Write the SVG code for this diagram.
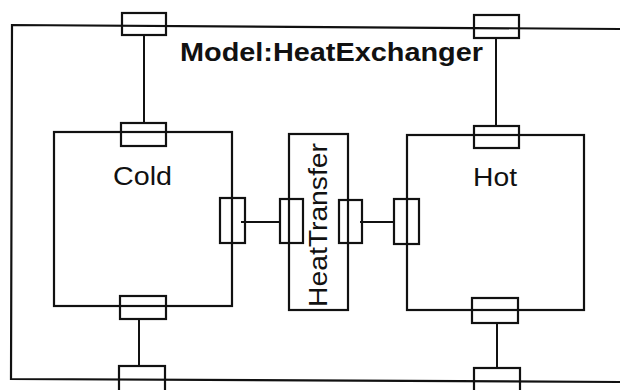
<svg xmlns="http://www.w3.org/2000/svg" width="620" height="390" viewBox="0 0 620 390">
<style>
.box{fill:none;stroke:#111;stroke-width:2.2}
.port{fill:none;stroke:#111;stroke-width:2.2}
.conn{fill:none;stroke:#111;stroke-width:2}
.lbl{font-family:"Liberation Sans",Arial,sans-serif;font-size:25px;fill:#111}
.title{font-family:"Liberation Sans",Arial,sans-serif;font-size:25px;font-weight:bold;fill:#111}
</style>
<rect width="620" height="390" fill="#fff"/>
<g id="model">
<path class="box" d="M620,29 L12,25 L11,379 L620,382"/>
<text class="title" x="180" y="61" textLength="303" lengthAdjust="spacingAndGlyphs">Model:HeatExchanger</text>
<rect class="port" x="122" y="13" width="44" height="22"/>
<rect class="port" x="474" y="15" width="45" height="23"/>
<rect class="port" x="119" y="366" width="46" height="30"/>
<rect class="port" x="474" y="368" width="46" height="30"/>
</g>
<g id="cold">
<rect class="box" x="54" y="132" width="178" height="174"/>
<text class="lbl" x="113" y="185" textLength="59" lengthAdjust="spacingAndGlyphs">Cold</text>
<rect class="port" x="121" y="123" width="45" height="23"/>
<rect class="port" x="120" y="296" width="46" height="23"/>
<rect class="port" x="220" y="198" width="25" height="45"/>
</g>
<g id="heattransfer">
<rect class="box" x="289" y="134" width="59" height="176"/>
<text class="lbl" transform="translate(327,307) rotate(-90)" x="0" y="0" font-size="26" textLength="164" lengthAdjust="spacingAndGlyphs">HeatTransfer</text>
<rect class="port" x="280" y="199" width="23" height="44"/>
<rect class="port" x="339" y="200" width="23" height="43"/>
</g>
<g id="hot">
<rect class="box" x="407" y="135" width="177" height="175"/>
<text class="lbl" x="473" y="186" textLength="44" lengthAdjust="spacingAndGlyphs">Hot</text>
<rect class="port" x="474" y="126" width="45" height="22"/>
<rect class="port" x="472" y="298" width="46" height="25"/>
<rect class="port" x="394" y="199" width="25" height="45"/>
</g>
<g id="connectors">
<line class="conn" x1="144" y1="35" x2="144" y2="123"/>
<line class="conn" x1="496" y1="38" x2="496" y2="126"/>
<line class="conn" x1="139" y1="319" x2="139" y2="366"/>
<line class="conn" x1="497" y1="323" x2="497" y2="368"/>
<line class="conn" x1="241" y1="222" x2="280" y2="222"/>
<line class="conn" x1="360" y1="222" x2="394" y2="222"/>
</g>
</svg>
